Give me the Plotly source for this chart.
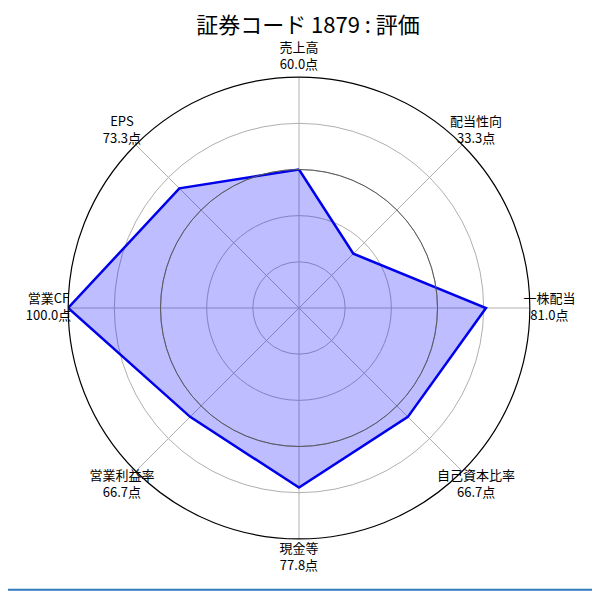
import plotly.graph_objects as go

TITLE = '証券コード 1879 : 評価'
CATEGORIES = ['売上高', '配当性向', '一株配当', '自己資本比率', '現金等', '営業利益率', '営業CF', 'EPS']
SCORES = [60.0, 33.3, 81.0, 66.7, 77.8, 66.7, 100.0, 73.3]
GRID_TICKS = [20, 40, 60, 80, 100]
AVERAGE_LINE = 60
LABEL_RADIUS = 108.5

FONT = 'Noto Sans CJK JP'
FILL_COLOUR = 'rgba(0, 0, 255, 0.26)'
LINE_COLOUR = 'rgb(0, 0, 235)'
GRID_COLOUR = 'rgb(176, 176, 176)'

# geometry (figure pixels; the page adds an 8px body margin)
CX, CY, RADIUS = 291, 300, 231
LABEL_SCALE = 1.2          # outer label subplot spans 1.2x the main radius
W, H = 600, 592

half = RADIUS * LABEL_SCALE
m_l, m_t = CX - half, CY - half
m_r, m_b = W - (CX + half), H - (CY + half)
inner = (1 - 1 / LABEL_SCALE) / 2
main_domain = [inner, 1 - inner]

labels = [f'{c}<br>{v:.1f}点' for c, v in zip(CATEGORIES, SCORES)]

fig = go.Figure()

# score polygon
fig.add_trace(go.Scatterpolar(
    r=SCORES + SCORES[:1],
    theta=CATEGORIES + CATEGORIES[:1],
    mode='lines',
    fill='toself',
    fillcolor=FILL_COLOUR,
    line=dict(color=LINE_COLOUR, width=2.5),
    hoverinfo='skip',
))

# dark reference circle, drawn on an overlaid polar subplot
fig.add_trace(go.Scatterpolar(r=[None], theta=[CATEGORIES[0]], subplot='polar2',
                              mode='lines', hoverinfo='skip'))

# category labels just outside the outer circle
fig.add_trace(go.Scatterpolar(
    r=[LABEL_RADIUS] * len(CATEGORIES),
    theta=CATEGORIES,
    subplot='polar3',
    mode='text',
    text=labels,
    textposition='middle center',
    textfont=dict(family=FONT, size=13, color='black'),
    cliponaxis=False,
    hoverinfo='skip',
))

common_angular = dict(direction='clockwise', rotation=90, type='category',
                      categoryorder='array', categoryarray=CATEGORIES)
hidden_radial = dict(showticklabels=False, ticks='', showline=False)

fig.update_layout(
    width=W, height=H,
    margin=dict(l=m_l, r=m_r, t=m_t, b=m_b, pad=0),
    paper_bgcolor='white',
    showlegend=False,
    title=dict(text=TITLE, x=0.5, xanchor='center', y=1 - 17 / H, yanchor='middle',
               font=dict(family=FONT, size=22, color='black')),
    font=dict(family=FONT),
    polar=dict(
        domain=dict(x=main_domain, y=main_domain),
        bgcolor='white',
        radialaxis=dict(range=[0, 100], tickvals=GRID_TICKS, gridcolor=GRID_COLOUR,
                        gridwidth=1, **hidden_radial),
        angularaxis=dict(showticklabels=False, ticks='', showline=True,
                         linecolor='black', linewidth=1.2,
                         gridcolor=GRID_COLOUR, gridwidth=1, **common_angular),
    ),
    polar2=dict(
        domain=dict(x=main_domain, y=main_domain),
        bgcolor='rgba(0,0,0,0)',
        radialaxis=dict(range=[0, 100], tickvals=[AVERAGE_LINE],
                        gridcolor='rgb(90, 90, 90)', gridwidth=1.2, **hidden_radial),
        angularaxis=dict(showticklabels=False, ticks='', showline=False, showgrid=False,
                         **common_angular),
    ),
    polar3=dict(
        domain=dict(x=[0, 1], y=[0, 1]),
        bgcolor='rgba(0,0,0,0)',
        radialaxis=dict(range=[0, 100 * LABEL_SCALE], showgrid=False, **hidden_radial),
        angularaxis=dict(showticklabels=False, ticks='', showline=False, showgrid=False,
                         **common_angular),
    ),
    shapes=[
        dict(type='line', xref='paper', yref='paper', x0=-0.1, x1=1.2,
             y0=(CY + half - 582) / (2 * half), y1=(CY + half - 582) / (2 * half),
             line=dict(color='rgb(50, 120, 190)', width=2)),
    ],
)

fig.write_html('out.html')
